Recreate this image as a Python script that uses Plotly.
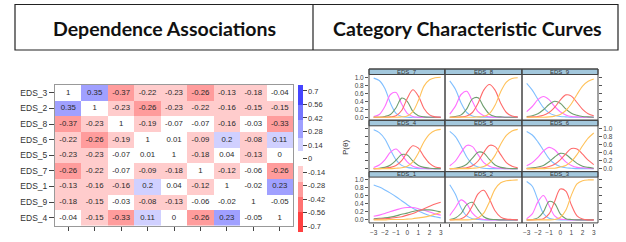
import plotly.graph_objects as go

W, H = 626, 242
def X(px): return px / W
def Y(py): return 1 - py / H

# ---------------- data: dependence associations ----------------
items = ["EDS_3", "EDS_2", "EDS_8", "EDS_6", "EDS_5", "EDS_7", "EDS_1", "EDS_9", "EDS_4"]
corr = [
    [1, 0.35, -0.37, -0.22, -0.23, -0.26, -0.13, -0.18, -0.04],
    [0.35, 1, -0.23, -0.26, -0.23, -0.22, -0.16, -0.15, -0.15],
    [-0.37, -0.23, 1, -0.19, -0.07, -0.07, -0.16, -0.03, -0.33],
    [-0.22, -0.26, -0.19, 1, 0.01, -0.09, 0.2, -0.08, 0.11],
    [-0.23, -0.23, -0.07, 0.01, 1, -0.18, 0.04, -0.13, 0],
    [-0.26, -0.22, -0.07, -0.09, -0.18, 1, -0.12, -0.06, -0.26],
    [-0.13, -0.16, -0.16, 0.2, 0.04, -0.12, 1, -0.02, 0.23],
    [-0.18, -0.15, -0.03, -0.08, -0.13, -0.06, -0.02, 1, -0.05],
    [-0.04, -0.15, -0.33, 0.11, 0, -0.26, 0.23, -0.05, 1],
]
cbar_ticks = [0.7, 0.56, 0.42, 0.28, 0.14, 0, -0.14, -0.28, -0.42, -0.56, -0.7]

# ---------------- data: category characteristic curves ----------------
theta = [-3, -2.5, -2, -1.5, -1, -0.5, 0, 0.5, 1, 1.5, 2, 2.5, 3]
ccc_EDS_7 = [
    [0.98, 0.92, 0.72, 0.35, 0.10, 0.02, 0.00, 0, 0, 0, 0, 0, 0],
    [0.02, 0.07, 0.27, 0.57, 0.62, 0.33, 0.10, 0.02, 0.00, 0, 0, 0, 0],
    [0.00, 0.00, 0.02, 0.07, 0.24, 0.48, 0.40, 0.15, 0.04, 0.01, 0, 0, 0],
    [0, 0, 0, 0.01, 0.04, 0.17, 0.47, 0.69, 0.53, 0.22, 0.06, 0.01, 0.00],
    [0, 0, 0, 0, 0, 0.01, 0.03, 0.14, 0.42, 0.78, 0.94, 0.99, 1.00],
]
ccc_EDS_8 = [
    [0.91, 0.70, 0.36, 0.12, 0.03, 0.01, 0, 0, 0, 0, 0, 0, 0],
    [0.08, 0.28, 0.57, 0.65, 0.40, 0.14, 0.04, 0.01, 0, 0, 0, 0, 0],
    [0.00, 0.02, 0.06, 0.21, 0.46, 0.49, 0.26, 0.08, 0.02, 0.01, 0, 0, 0],
    [0, 0, 0.01, 0.03, 0.12, 0.35, 0.68, 0.82, 0.68, 0.35, 0.12, 0.03, 0.01],
    [0, 0, 0, 0, 0, 0.01, 0.02, 0.09, 0.30, 0.64, 0.88, 0.97, 0.99],
]
ccc_EDS_9 = [
    [0.85, 0.68, 0.45, 0.24, 0.11, 0.05, 0.02, 0.01, 0, 0, 0, 0, 0],
    [0.14, 0.27, 0.44, 0.52, 0.44, 0.27, 0.14, 0.06, 0.02, 0.01, 0, 0, 0],
    [0.02, 0.04, 0.09, 0.19, 0.32, 0.40, 0.35, 0.21, 0.10, 0.05, 0.02, 0.01, 0],
    [0, 0.01, 0.02, 0.05, 0.12, 0.25, 0.43, 0.56, 0.53, 0.37, 0.20, 0.09, 0.04],
    [0, 0, 0, 0, 0.01, 0.03, 0.07, 0.17, 0.34, 0.57, 0.78, 0.90, 0.96],
]
ccc_EDS_4 = [
    [0.97, 0.90, 0.74, 0.47, 0.22, 0.08, 0.03, 0.01, 0, 0, 0, 0, 0],
    [0.03, 0.09, 0.22, 0.41, 0.49, 0.35, 0.17, 0.06, 0.02, 0.01, 0, 0, 0],
    [0, 0.01, 0.03, 0.09, 0.21, 0.35, 0.34, 0.19, 0.08, 0.03, 0.01, 0, 0],
    [0, 0, 0.01, 0.03, 0.08, 0.20, 0.41, 0.57, 0.51, 0.30, 0.13, 0.04, 0.02],
    [0, 0, 0, 0, 0.01, 0.02, 0.06, 0.17, 0.39, 0.67, 0.86, 0.95, 0.98],
]
ccc_EDS_5 = [
    [0.93, 0.80, 0.56, 0.29, 0.11, 0.04, 0.01, 0, 0, 0, 0, 0, 0],
    [0.07, 0.19, 0.40, 0.58, 0.55, 0.35, 0.15, 0.06, 0.02, 0.01, 0, 0, 0],
    [0, 0.01, 0.04, 0.11, 0.26, 0.41, 0.39, 0.23, 0.09, 0.03, 0.01, 0, 0],
    [0, 0, 0.01, 0.02, 0.07, 0.19, 0.40, 0.58, 0.55, 0.35, 0.15, 0.06, 0.02],
    [0, 0, 0, 0, 0.01, 0.02, 0.05, 0.14, 0.33, 0.61, 0.83, 0.94, 0.98],
]
ccc_EDS_6 = [
    [0.93, 0.84, 0.67, 0.46, 0.25, 0.12, 0.05, 0.02, 0.01, 0, 0, 0, 0],
    [0.07, 0.15, 0.28, 0.44, 0.53, 0.47, 0.32, 0.17, 0.08, 0.03, 0.02, 0.01, 0],
    [0.01, 0.02, 0.04, 0.08, 0.17, 0.29, 0.38, 0.35, 0.24, 0.13, 0.06, 0.03, 0.01],
    [0, 0, 0.01, 0.02, 0.05, 0.11, 0.22, 0.37, 0.50, 0.49, 0.36, 0.21, 0.10],
    [0, 0, 0, 0, 0.01, 0.01, 0.04, 0.08, 0.18, 0.35, 0.57, 0.76, 0.89],
]
ccc_EDS_1 = [
    [0.87, 0.82, 0.75, 0.67, 0.58, 0.48, 0.38, 0.29, 0.22, 0.16, 0.11, 0.08, 0.05],
    [0.09, 0.12, 0.16, 0.21, 0.25, 0.29, 0.31, 0.31, 0.28, 0.24, 0.20, 0.15, 0.12],
    [0.03, 0.04, 0.05, 0.07, 0.10, 0.14, 0.17, 0.21, 0.24, 0.25, 0.25, 0.23, 0.20],
    [0.01, 0.02, 0.03, 0.04, 0.06, 0.08, 0.12, 0.16, 0.22, 0.28, 0.34, 0.40, 0.44],
    [0, 0, 0, 0.01, 0.01, 0.01, 0.02, 0.03, 0.05, 0.07, 0.10, 0.14, 0.19],
]
ccc_EDS_2 = [
    [0.88, 0.64, 0.30, 0.10, 0.03, 0.01, 0, 0, 0, 0, 0, 0, 0],
    [0.11, 0.31, 0.50, 0.40, 0.17, 0.05, 0.01, 0, 0, 0, 0, 0, 0],
    [0.01, 0.05, 0.16, 0.38, 0.44, 0.25, 0.08, 0.02, 0.01, 0, 0, 0, 0],
    [0, 0.01, 0.03, 0.12, 0.35, 0.65, 0.74, 0.52, 0.23, 0.07, 0.02, 0.01, 0],
    [0, 0, 0, 0, 0.01, 0.05, 0.17, 0.45, 0.77, 0.93, 0.98, 0.99, 1.0],
]
ccc_EDS_3 = [
    [0.96, 0.84, 0.50, 0.16, 0.04, 0.01, 0, 0, 0, 0, 0, 0, 0],
    [0.03, 0.15, 0.45, 0.61, 0.36, 0.10, 0.02, 0.01, 0, 0, 0, 0, 0],
    [0, 0.01, 0.05, 0.20, 0.46, 0.41, 0.15, 0.03, 0.01, 0, 0, 0, 0],
    [0, 0, 0.01, 0.03, 0.15, 0.46, 0.77, 0.72, 0.37, 0.10, 0.02, 0, 0],
    [0, 0, 0, 0, 0, 0.01, 0.06, 0.24, 0.62, 0.90, 0.98, 1.0, 1.0],
]
ccc = {"EDS_1": ccc_EDS_1, "EDS_2": ccc_EDS_2, "EDS_3": ccc_EDS_3,
       "EDS_4": ccc_EDS_4, "EDS_5": ccc_EDS_5, "EDS_6": ccc_EDS_6,
       "EDS_7": ccc_EDS_7, "EDS_8": ccc_EDS_8, "EDS_9": ccc_EDS_9}
panel_grid = [["EDS_7", "EDS_8", "EDS_9"],
              ["EDS_4", "EDS_5", "EDS_6"],
              ["EDS_1", "EDS_2", "EDS_3"]]
cat_colors = ["#80BFFF", "#FF70FF", "#6E9E6E", "#FF6B6B", "#FFC25A"]

FONT = "Liberation Sans, Arial, sans-serif"
fig = go.Figure()

# ---------------- heatmap ----------------
zmin, zmax = -0.762, 0.762
def pos(v): return (v - zmin) / (zmax - zmin)
edges = [-0.55, -0.40, -0.245, -0.075, 0.075, 0.215, 0.40, 0.55]
cols = ["#FF4040", "#FF7272", "#FF9C9C", "#FFCCCC", "#FFFFFF",
        "#D0D0FF", "#A0A0FF", "#7676FF", "#4545FF"]
cs = []
prev = 0.0
for e, c in zip(edges + [zmax], cols):
    p = 1.0 if e == zmax else pos(e)
    cs.append([prev, c]); cs.append([p, c]); prev = p

zcol = [[None if i == j else corr[i][j] for j in range(9)] for i in range(9)]
fig.add_trace(go.Heatmap(
    z=zcol, x=items, y=items, zmin=zmin, zmax=zmax, colorscale=cs,
    xaxis="x", yaxis="y", hoverinfo="skip",
    colorbar=dict(x=X(298), xanchor="left", xpad=0, ypad=0,
                  y=Y(158.5), yanchor="middle", len=147, lenmode="pixels",
                  thickness=5, thicknessmode="pixels", outlinewidth=0,
                  tickvals=cbar_ticks, ticktext=[f"{t:g}" for t in cbar_ticks],
                  ticks="outside", ticklen=4, tickcolor="#444", tickwidth=1,
                  tickfont=dict(size=7.5, color="#333", family=FONT)),
))
tx, ty, tt = [], [], []
for i in range(9):
    for j in range(9):
        tx.append(items[j]); ty.append(items[i]); tt.append(f"{corr[i][j]:g}")
fig.add_trace(go.Scatter(x=tx, y=ty, text=tt, mode="text", xaxis="x", yaxis="y",
                         textfont=dict(size=7.8, color="#2a2a2a", family=FONT),
                         hoverinfo="skip", showlegend=False))

layout = dict(
    template="none",
    width=W, height=H, margin=dict(l=0, r=0, t=0, b=0, autoexpand=False),
    paper_bgcolor="white", plot_bgcolor="white", showlegend=False,
    xaxis=dict(domain=[X(55), X(293)], anchor="y", showticklabels=False, automargin=False,
               ticks="outside", ticklen=4, tickcolor="#444", showgrid=False,
               showline=True, mirror=True, linecolor="#999", linewidth=1,
               zeroline=False),
    yaxis=dict(domain=[Y(225.5), Y(85)], anchor="x", autorange="reversed", automargin=False,
               ticks="outside", ticklen=5, tickcolor="#444", showgrid=False,
               showline=True, mirror=True, linecolor="#999", linewidth=1,
               tickfont=dict(size=8.5, color="#333", family=FONT), zeroline=False),
)

# ---------------- CCC panels ----------------
col_x = [(369, 445), (445, 522), (522, 598)]
row_top = [69.0, 120.3, 171.6]
strip_h = 5.5
row_h = 51.3
shapes, annots = [], []
n = 1
for r in range(3):
    for c in range(3):
        n += 1
        name = panel_grid[r][c]
        x0, x1 = col_x[c]
        t0 = row_top[r]
        ax = f"x{n}"; ay = f"y{n}"
        for k in range(5):
            fig.add_trace(go.Scatter(x=theta, y=ccc[name][k], mode="lines",
                                     line=dict(color=cat_colors[k], width=1.1, shape="spline", smoothing=0.9),
                                     xaxis=ax, yaxis=ay, hoverinfo="skip", showlegend=False))
        xa = dict(domain=[X(x0), X(x1)], anchor=ay, range=[-3.42, 3.38], showgrid=False,
                  zeroline=False, showline=False, tickvals=[-3, -2, -1, 0, 1, 2, 3],
                  automargin=False,
                  tickfont=dict(size=6.5, color="#444", family=FONT))
        if r == 2:
            xa.update(ticks="outside", ticklen=3, tickcolor="#555", showticklabels=(c != 1))
        else:
            xa.update(ticks="", showticklabels=False)
        ya = dict(domain=[Y(t0 + row_h), Y(t0 + strip_h)], anchor=ax, range=[-0.075, 1.07],
                  showgrid=False, zeroline=False, showline=False, automargin=False,
                  tickvals=[0, 0.2, 0.4, 0.6, 0.8, 1.0],
                  ticktext=["0.0", "0.2", "0.4", "0.6", "0.8", "1.0"],
                  tickfont=dict(size=6.5, color="#444", family=FONT))
        if c == 0:
            ya.update(side="left", ticks="outside", ticklen=3, tickcolor="#555", showticklabels=(r != 1))
        elif c == 2:
            ya.update(side="right", ticks="outside", ticklen=3, tickcolor="#555", showticklabels=(r == 1))
        else:
            ya.update(ticks="", showticklabels=False)
        layout[f"xaxis{n}"] = xa
        layout[f"yaxis{n}"] = ya
        shapes.append(dict(type="rect", xref="paper", yref="paper",
                           x0=X(x0), x1=X(x1), y0=Y(t0 + strip_h), y1=Y(t0),
                           fillcolor="#A3C8DD", line=dict(color="#444", width=1)))
        shapes.append(dict(type="rect", xref="paper", yref="paper",
                           x0=X(x0), x1=X(x1), y0=Y(t0 + row_h), y1=Y(t0),
                           line=dict(color="#444", width=1)))
        annots.append(dict(text=name, xref="paper", yref="paper", x=X((x0 + x1) / 2),
                           y=Y(t0 + strip_h / 2), showarrow=False,
                           font=dict(size=6, color="#333", family=FONT),
                           xanchor="center", yanchor="middle"))

annots.append(dict(text="P(\u03b8)", xref="paper", yref="paper", x=X(345), y=Y(148),
                   showarrow=False, textangle=-90, xanchor="center", yanchor="middle",
                   font=dict(size=8, color="#333", family=FONT)))

# ---------------- title boxes ----------------
shapes.append(dict(type="rect", xref="paper", yref="paper", x0=X(15), x1=X(618),
                   y0=Y(50), y1=Y(4.5), line=dict(color="#222", width=1.2)))
shapes.append(dict(type="line", xref="paper", yref="paper", x0=X(313), x1=X(313),
                   y0=Y(50), y1=Y(4.5), line=dict(color="#222", width=1.2)))
annots.append(dict(text="<b>Dependence Associations</b>", xref="paper", yref="paper",
                   x=X(164), y=Y(28), showarrow=False, xanchor="center", yanchor="middle",
                   font=dict(size=19.5, color="#111", family="Lato, Open Sans, sans-serif")))
annots.append(dict(text="<b>Category Characteristic Curves</b>", xref="paper", yref="paper",
                   x=X(467), y=Y(28), showarrow=False, xanchor="center", yanchor="middle",
                   font=dict(size=19.5, color="#111", family="Lato, Open Sans, sans-serif")))

layout["shapes"] = shapes
layout["annotations"] = annots
fig.update_layout(**layout)
fig.write_html("out.html", config={"displayModeBar": False, "staticPlot": True},
               post_script="document.body.style.margin='0px';document.body.style.overflow='hidden';")
